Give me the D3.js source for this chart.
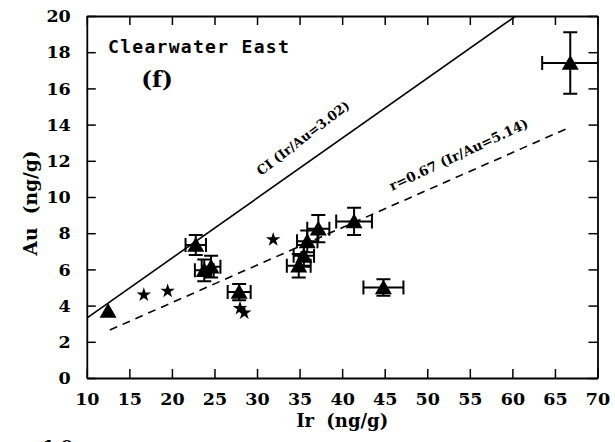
<!DOCTYPE html>
<html>
<head>
<meta charset="utf-8">
<script src="https://cdn.jsdelivr.net/npm/d3@7"></script>
<style>
  html, body { margin: 0; padding: 0; background: #fff; }
  svg { display: block; }
</style>
</head>
<body>
<svg id="chart" width="615" height="442"></svg>
<script>
// ---- data ----
const irTicks = [10, 15, 20, 25, 30, 35, 40, 45, 50, 55, 60, 65, 70];
const auTicks = [0, 2, 4, 6, 8, 10, 12, 14, 16, 18, 20];

// triangles (samples with error bars): Ir, Au, Ir error, Au error
const triIr    = [12.5, 22.8, 23.8, 24.6, 27.9, 34.9, 35.5, 35.9, 37.2, 41.4, 44.85, 66.8];
const triAu    = [3.7,  7.35, 5.95, 6.15, 4.75, 6.2,  6.75, 7.55, 8.25, 8.65, 5.0,  17.4];
const triIrErr = [0,    1.2,  1.1,  1.1,  1.35, 1.4,  1.2,  1.2,  1.3,  2.1,  2.35, 3.3];
const triAuErr = [0,    0.55, 0.6,  0.6,  0.45, 0.65, 0.6,  0.6,  0.75, 0.75, 0.45, 1.7];

// stars
const starIr = [16.7, 19.5, 28.0, 28.5, 31.9];
const starAu = [4.6,  4.8,  3.85, 3.6,  7.65];

// reference lines
const ciLineIr = [10, 60.4];
const ciLineAu = [3.31, 20];
const fitLineIr = [12.7, 66.5];
const fitLineAu = [2.65, 13.8];

const siteLabel = "Clearwater East";
const panelLabel = "(f)";
const ciLabel = "CI (Ir/Au=3.02)";
const fitLabel = "r=0.67 (Ir/Au=5.14)";
const xTitle = "Ir (ng/g)";
const yTitle = "Au (ng/g)";

// ---- drawing ----
(function () {
const svg = d3.select("#chart");
svg.append("rect").attr("width", 615).attr("height", 442).attr("fill", "#fff");

const mLeft = 86.8, mRight = 597.5, mTop = 16, mBottom = 378;
const x = d3.scaleLinear().domain([10, 70]).range([mLeft, mRight]);
const y = d3.scaleLinear().domain([0, 20]).range([mBottom, mTop]);

const tickFont = "'DejaVu Serif', serif";

function styleAxis(g) {
  g.select(".domain").attr("stroke", "#000").attr("stroke-width", 1.8);
  g.selectAll(".tick line").attr("stroke", "#000").attr("stroke-width", 1.5);
  g.selectAll(".tick text").attr("font-family", tickFont).attr("font-weight", "bold")
    .attr("font-size", 17.5).attr("fill", "#000");
}

svg.append("g").attr("transform", `translate(0,${mBottom})`)
  .call(d3.axisBottom(x).tickValues(irTicks).tickFormat(d3.format("d"))
    .tickSizeInner(-9).tickSizeOuter(0).tickPadding(15))
  .call(styleAxis);
svg.append("g").attr("transform", `translate(0,${mTop})`)
  .call(d3.axisTop(x).tickValues(irTicks).tickFormat("")
    .tickSizeInner(-9).tickSizeOuter(0))
  .call(styleAxis);
svg.append("g").attr("transform", `translate(${mLeft},0)`)
  .call(d3.axisLeft(y).tickValues(auTicks).tickFormat(d3.format("d"))
    .tickSizeInner(-9).tickSizeOuter(0).tickPadding(16))
  .call(styleAxis);
svg.append("g").attr("transform", `translate(${mRight},0)`)
  .call(d3.axisRight(y).tickValues(auTicks).tickFormat("")
    .tickSizeInner(-9).tickSizeOuter(0))
  .call(styleAxis);

// clip for marks
svg.append("clipPath").attr("id", "plotclip").append("rect")
  .attr("x", mLeft).attr("y", mTop).attr("width", mRight - mLeft).attr("height", mBottom - mTop);
const plot = svg.append("g").attr("clip-path", "url(#plotclip)");

const line = d3.line().x(d => x(d[0])).y(d => y(d[1]));
plot.append("path").datum(d3.zip(ciLineIr, ciLineAu)).attr("d", line)
  .attr("fill", "none").attr("stroke", "#000").attr("stroke-width", 1.6);
plot.append("path").datum(d3.zip(fitLineIr, fitLineAu)).attr("d", line)
  .attr("fill", "none").attr("stroke", "#000").attr("stroke-width", 1.6)
  .attr("stroke-dasharray", "8,6");

// error bars
const pts = triIr.map((v, i) => ({ir: v, au: triAu[i], ex: triIrErr[i], ey: triAuErr[i]}));
const cap = 7;
const eb = plot.append("g").attr("stroke", "#000").attr("stroke-width", 2).attr("fill", "none");
pts.filter(p => p.ex > 0 || p.ey > 0).forEach(p => {
  const cx = x(p.ir), cy = y(p.au);
  const x0 = x(p.ir - p.ex), x1 = x(p.ir + p.ex);
  const y0 = y(p.au - p.ey), y1 = y(p.au + p.ey);
  eb.append("path").attr("d",
    `M${x0},${cy}H${x1}M${x0},${cy - cap}V${cy + cap}M${x1},${cy - cap}V${cy + cap}` +
    `M${cx},${y0}V${y1}M${cx - cap},${y0}H${cx + cap}M${cx - cap},${y1}H${cx + cap}`);
});

// triangles
const tw = 8.5, th = 8;
plot.append("g").selectAll("path").data(pts).join("path")
  .attr("d", p => {
    const cx = x(p.ir), cy = y(p.au);
    return `M${cx},${cy - th}L${cx + tw},${cy + th * 0.85}L${cx - tw},${cy + th * 0.85}Z`;
  })
  .attr("fill", "#000");

// stars
const star = d3.symbol().type(d3.symbolStar).size(65);
plot.append("g").selectAll("path").data(starIr.map((v, i) => [v, starAu[i]])).join("path")
  .attr("d", star)
  .attr("transform", d => `translate(${x(d[0])},${y(d[1])})`)
  .attr("fill", "#000");

// line labels
svg.append("text").text(ciLabel)
  .attr("transform", `translate(261,176) rotate(-37.5)`)
  .attr("font-family", tickFont).attr("font-weight", "bold").attr("font-size", 13);
svg.append("text").text(fitLabel)
  .attr("transform", `translate(392,191) rotate(-25)`)
  .attr("font-family", tickFont).attr("font-weight", "bold").attr("font-size", 13.5);

// panel labels
svg.append("text").text(siteLabel).attr("x", 108).attr("y", 52.5)
  .attr("font-family", "'DejaVu Sans Mono', monospace").attr("font-weight", "bold")
  .attr("font-size", 18).attr("letter-spacing", 1.3);
svg.append("text").text(panelLabel).attr("x", 157).attr("y", 87).attr("text-anchor", "middle")
  .attr("font-family", tickFont).attr("font-weight", "bold").attr("font-size", 23);

// axis titles
svg.append("text").text(xTitle).attr("x", (mLeft + mRight) / 2).attr("y", 427)
  .attr("text-anchor", "middle")
  .attr("font-family", tickFont).attr("font-weight", "bold").attr("font-size", 18)
  .attr("word-spacing", 6);
svg.append("text").text(yTitle)
  .attr("transform", `translate(37,${(mTop + mBottom) / 2 + 6}) rotate(-90)`)
  .attr("text-anchor", "middle")
  .attr("font-family", tickFont).attr("font-weight", "bold").attr("font-size", 18.5)
  .attr("word-spacing", 7);

// top of next panel's label, cut off by the page edge
svg.append("text").text("1.0").attr("x", 73).attr("y", 452).attr("text-anchor", "end")
  .attr("font-family", tickFont).attr("font-weight", "bold").attr("font-size", 17.5);
})();
</script>
</body>
</html>
